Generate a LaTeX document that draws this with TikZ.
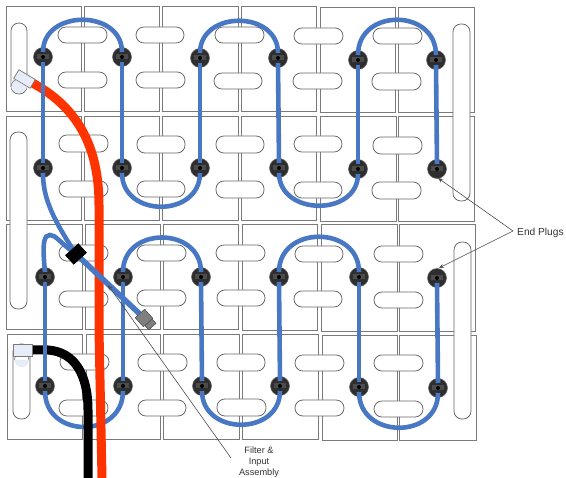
\documentclass[tikz,border=0pt]{standalone}
\usepackage{fontspec}
\setmainfont{Liberation Sans}
\usetikzlibrary{arrows.meta}
\definecolor{tubeblue}{HTML}{4878C4}
\definecolor{redhose}{HTML}{FF3300}
\definecolor{elbowpale}{HTML}{E6ECF8}
\definecolor{cellline}{HTML}{7A7A7A}
\definecolor{plugdark}{HTML}{2E2E2E}
\definecolor{filtergray}{HTML}{7F7F7F}
\newcommand{\vtube}[2]{\draw[tube] ([yshift=-5pt]#1.center) -- ([yshift=5pt]#2.center);}
\newcommand{\toparc}[3]{\draw[tube] ([yshift=5pt]#1.center) .. controls ([yshift=#3pt]#1.center) and ([yshift=#3pt]#2.center) .. ([yshift=5pt]#2.center);}
\newcommand{\botarc}[3]{\draw[tube] ([yshift=-5pt]#1.center) .. controls ([yshift=-#3pt]#1.center) and ([yshift=-#3pt]#2.center) .. ([yshift=-5pt]#2.center);}
\tikzset{
  cell/.style={draw=cellline,line width=0.9pt,fill=white},
  pill/.style={draw=cellline!85!black,line width=0.8pt,fill=white,rounded corners=7.9pt},
  plug/.style={circle,minimum size=19pt,inner sep=0pt,fill=plugdark,draw=black!60,line width=0.5pt,
    path picture={
      \fill[black!70] ([shift={(-6pt,-2.5pt)}]path picture bounding box.center) rectangle ++(12pt,5pt);
      \fill[black] (path picture bounding box.center) circle (2pt);
    }},
  tube/.style={draw=tubeblue,line width=4.6pt},
  hoseline/.style={line width=9pt},
  elbow/.style={draw=cellline,line width=0.6pt,fill=elbowpale,inner sep=0pt},
  filterpart/.style={draw=black!65,line width=0.5pt,fill=filtergray,inner sep=0pt},
  callout/.style={draw=black!70,line width=0.6pt,-{Stealth[length=5pt,width=4pt]}},
  lbl/.style={font=\fontsize{10.2pt}{12pt}\selectfont,text=black!80,inner sep=0pt},
  lblsmall/.style={font=\fontsize{9.2pt}{11.2pt}\selectfont,text=black!80,inner sep=0pt,align=center}
}
\begin{document}
\begin{tikzpicture}[x=1pt,y=-1pt]
\fill[white] (0,0) rectangle (566,478);
\useasboundingbox (0,0) rectangle (566,478);
% battery cases
\foreach \a/\b/\c/\d in {
  6/6/81/111,84/6/159/111,162/6/238/111,241/6/316/111,320/7/395/112,398/7/474/112,
  6/116/81/220,84/116/159/220,162/116/238/220,241/116/316/220,320/116/396/221,398/116/474/221,
  6.5/224/82/329,85/224/160/329,163/224/238/329,242/224/317/330,321/224/397/331,399/224/475/331,
  7/334/82/439,86/334/160/439,163/334/239/439,242/334/318/439,322/335/397/440,399.5/335/476/440}
  \draw[cell] (\a,\b) rectangle (\c,\d);
% handles
\foreach \a/\b/\c/\d in {
  58/27/107/43,58/72/107/88,136/27/184/43,136/72/185/88,215/27/264/43,214/73/262/89,294/28/343/44,293/73/342/89,373/28/422/44,372/73/421/90,
  59/135/108/152,59/181/108/197,137/136/185/153,137/181/185/197,216/136/264/153,216/181/264/198,294/136/342/152,294/182/342/198,373/137/422/154,372/182/421/199,
  59/245/108/261,59/291/108/307,137/245/186/261,137/290/186/306,216/245/265/261,217/290/265/306,295/246/343/262,294/291/342/307,374/246/423/262,374/292/423/308,
  60/354/109/370,59/400/108/416,138/354/187/371,138/400/186/416,217/354/265/371,217/399/266/416,295/355/344/371,295/400/344/416,374/355/423/371,374/401/423/417,
  11/23/27/94,10/132/27/309,13/344/30/419,453/24/470/201,454/242/471/419}
  \draw[pill] (\a,\b) rectangle (\c,\d);
% plugs
\foreach \n/\x/\y in {
  p11/43/57,p12/122/57,p13/200/58,p14/278/58,p15/358/60,p16/436/60,
  p21/43/168,p22/122/168,p23/200/168,p24/279/168,p25/358/169,p26/437/169,
  p31/45/277,p32/123/277,p33/201/277,p34/279/277,p35/359/277,p36/437/278,
  p41/45/386,p42/123/386,p43/202/386,p44/280/386,p45/359/387,p46/438/388}
  \node[plug] (\n) at (\x,\y) {};
% fixed parts of the hoses and the filter
\node[elbow,minimum width=19pt,minimum height=10pt,rotate=-31] (elbowA) at (24.5,79) {};
\node[elbow,minimum width=19pt,minimum height=12pt] (elbowB) at (22.5,350) {};
\node[filterpart,fill=black,draw=black,minimum width=17pt,minimum height=12pt,rotate=42] (collar) at (76,254) {};
\node[filterpart,minimum width=12.5pt,minimum height=12pt,rotate=42] (head) at (144,318) {};
\node[filterpart,minimum width=9.5pt,minimum height=5.5pt,rotate=42] (headend) at (150.5,324.5) {};
\coordinate (redend) at (102,478);
\coordinate (blackend) at (88,478);
% tube under the hoses
\botarc{p41}{p42}{53}
% hoses
\draw[redhose,hoseline] (elbowA.center) .. controls (80,105) and (99,150) .. (99,205) -- (99,330) -- (redend);
\draw[black,hoseline] (elbowB.center) -- (48,350) .. controls (75,352) and (88,375) .. (88,410) -- (blackend);
% elbows (pale end, then body)
\fill[elbowpale] (19,85) circle (8.3);
\draw[cellline,line width=0.6pt] (11,87) arc[start angle=180,end angle=0,x radius=8.2,y radius=-8];
\node[elbow,minimum width=19pt,minimum height=10pt,rotate=-31] at (elbowA.center) {};
\fill[elbowpale] (14.5,356) rectangle (29,360) (21.7,360) circle (7.2);
\draw[cellline,line width=0.6pt] (14.5,360) arc[start angle=180,end angle=0,x radius=7.2,y radius=-7.2];
\node[elbow,minimum width=19pt,minimum height=12pt] at (elbowB.center) {};
% tubes
\toparc{p11}{p12}{48}
\toparc{p13}{p14}{48}
\toparc{p15}{p16}{52}
\vtube{p11}{p21}
\vtube{p12}{p22}
\vtube{p13}{p23}
\vtube{p14}{p24}
\vtube{p15}{p25}
\vtube{p16}{p26}
\botarc{p22}{p23}{50}
\botarc{p24}{p25}{48}
\toparc{p32}{p33}{51}
\toparc{p34}{p35}{52}
\vtube{p31}{p41}
\vtube{p32}{p42}
\vtube{p33}{p43}
\vtube{p34}{p44}
\vtube{p35}{p45}
\vtube{p36}{p46}
\botarc{p43}{p44}{50}
\botarc{p45}{p46}{52}
\draw[tube] ([yshift=-5pt]p21.center) .. controls (43,195) and (50,215) .. (collar.center);
\draw[tube] ([yshift=5pt]p31.center) .. controls (42,242) and (44,235) .. (50,235) .. controls (56,235) and (60,243) .. (collar.center);
% filter
\draw[tubeblue,line width=5.6pt] (collar.center) -- (head.center);
\node[filterpart,fill=black,draw=black,minimum width=17pt,minimum height=12pt,rotate=42] at (collar.center) {};
\node[filterpart,minimum width=9.5pt,minimum height=5.5pt,rotate=42] at (headend.center) {};
\node[filterpart,minimum width=12.5pt,minimum height=12pt,rotate=42] at (head.center) {};
% labels
\node[lbl,anchor=west] (endlbl) at (517,233) {End Plugs};
\node[lblsmall] (filterlbl) at (259,462) {Filter \&\\Input\\Assembly};
\coordinate (tipA) at (438,178);
\coordinate (tipB) at (439,268);
\coordinate (tipC) at (108,285);
\coordinate (tailC) at (231,458);
\draw[callout] ([xshift=-4pt,yshift=2pt]endlbl.west) -- (tipA);
\draw[callout] ([xshift=-4pt,yshift=2pt]endlbl.west) -- (tipB);
\draw[callout] (tailC) -- (tipC);
\end{tikzpicture}
\end{document}
